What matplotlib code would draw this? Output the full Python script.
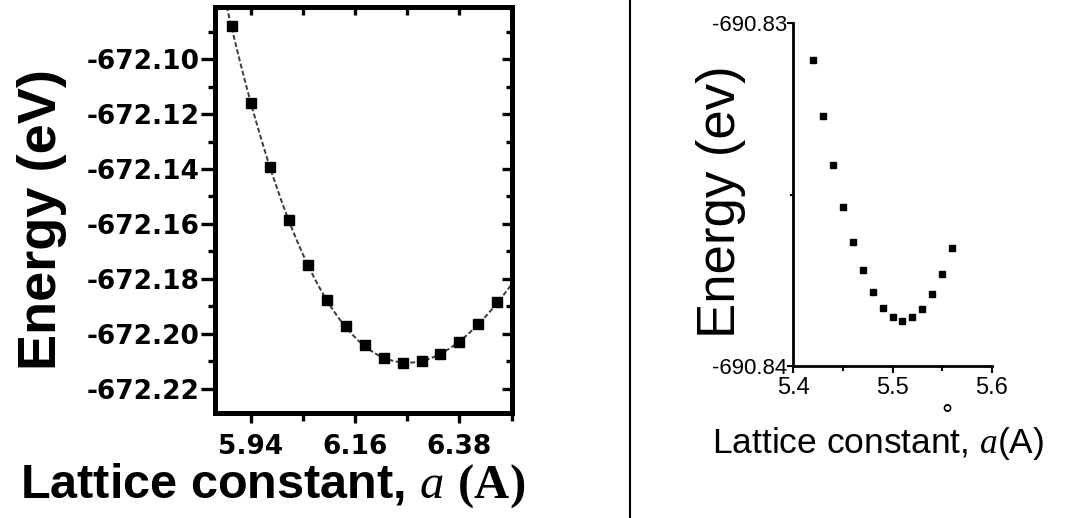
import numpy as np
import matplotlib
matplotlib.use("Agg")
import matplotlib.pyplot as plt
from matplotlib.ticker import FixedLocator, MultipleLocator, FormatStrFormatter, NullFormatter
from matplotlib.lines import Line2D

plt.rcParams['font.family'] = 'Liberation Sans'
plt.rcParams['axes.unicode_minus'] = False
plt.rcParams['mathtext.fontset'] = 'custom'
plt.rcParams['mathtext.rm'] = 'Liberation Sans'
plt.rcParams['mathtext.it'] = 'Liberation Serif:italic'
plt.rcParams['mathtext.bf'] = 'Liberation Serif:bold'

# left scan: lattice constant (A) vs total energy (eV)
a_left = [5.90, 5.94, 5.98, 6.02, 6.06, 6.10, 6.14, 6.18,
          6.22, 6.26, 6.30, 6.34, 6.38, 6.42, 6.46]
e_left = [-672.0881, -672.1158, -672.1392, -672.1587, -672.1748,
          -672.1876, -672.1971, -672.2043, -672.2087, -672.2107,
          -672.2101, -672.2073, -672.2030, -672.1964, -672.1886]

# right scan
a_right = [5.42, 5.43, 5.44, 5.45, 5.46, 5.47, 5.48, 5.49,
           5.50, 5.51, 5.52, 5.53, 5.54, 5.55, 5.56]
e_right = [-690.83107, -690.83270, -690.83413, -690.83536, -690.83639,
           -690.83721, -690.83786, -690.83832, -690.83859, -690.83869,
           -690.83859, -690.83834, -690.83791, -690.83731, -690.83655]

left_xticks = [5.94, 6.16, 6.38]
left_xminor = [6.05, 6.27, 6.49]

W, H = 1065, 518
fig = plt.figure(figsize=(W / 100, H / 100), dpi=100)


def box(x0, y0, x1, y1):
    return [x0 / W, 1 - y1 / H, (x1 - x0) / W, (y1 - y0) / H]


# ---- left panel ----
ax1 = fig.add_axes(box(215, 7, 511.7, 413.3))
coef = np.polyfit(a_left, e_left, 3)
xf = np.linspace(5.86, 6.50, 300)
ax1.plot(xf, np.polyval(coef, xf), color='#3a3a3a', lw=1.4, ls=(0, (2.5, 1.3)))
ax1.plot(a_left, e_left, 's', color='black', ms=6.8, zorder=3)

ax1.set_xlim(5.865, 6.49)
ax1.set_ylim(-672.229, -672.081)
ax1.xaxis.set_major_locator(FixedLocator(left_xticks))
ax1.xaxis.set_minor_locator(FixedLocator(left_xminor))
ax1.yaxis.set_major_locator(MultipleLocator(0.02))
ax1.yaxis.set_minor_locator(MultipleLocator(0.01))
ax1.yaxis.set_major_formatter(FormatStrFormatter('%.2f'))
ax1.xaxis.set_major_formatter(FormatStrFormatter('%.2f'))
for s in ax1.spines.values():
    s.set_linewidth(3.6)

ax1.tick_params(which='both', direction='out', width=2.4)
ax1.tick_params(axis='y', which='major', length=10, pad=1, labelsize=19)
ax1.tick_params(axis='y', which='minor', length=5)
ax1.tick_params(axis='x', which='major', length=7, pad=8, labelsize=19)
ax1.tick_params(axis='x', which='minor', length=6)
for lab in ax1.get_xticklabels() + ax1.get_yticklabels():
    lab.set_fontfamily('DejaVu Sans')
    lab.set_fontweight('bold')

# inward ticks on the top and right edges
top = ax1.secondary_xaxis('top')
top.xaxis.set_major_locator(FixedLocator(left_xticks))
top.xaxis.set_minor_locator(FixedLocator(left_xminor))
top.xaxis.set_major_formatter(NullFormatter())
top.tick_params(which='both', direction='in', length=6, width=2.4)
top.spines['top'].set_linewidth(3.6)

right = ax1.secondary_yaxis('right')
right.yaxis.set_major_locator(MultipleLocator(0.02))
right.yaxis.set_minor_locator(MultipleLocator(0.01))
right.yaxis.set_major_formatter(NullFormatter())
right.tick_params(which='major', direction='in', length=7, width=2.4)
right.tick_params(which='minor', direction='in', length=4, width=2.4)
right.spines['right'].set_linewidth(3.6)

fig.text(42 / W, 1 - 220 / H, 'Energy (eV)', rotation=90, fontsize=39,
         fontweight='bold', ha='center', va='center')
fig.text(20 / W, 1 - 498 / H, r'Lattice constant, $\mathit{a}$ $\mathbf{(A)}$',
         fontsize=35, fontweight='bold', ha='left', va='baseline')

# divider between the two panels
fig.add_artist(Line2D([630 / W, 630 / W], [0, 1], transform=fig.transFigure,
                      color='black', lw=1.5))

# ---- right panel ----
ax2 = fig.add_axes(box(793.3, 23.3, 991.7, 365.7))
ax2.plot(a_right, e_right, 's', color='black', ms=4.2)
ax2.set_xlim(5.4, 5.6)
ax2.set_ylim(-690.84, -690.83)
ax2.spines['top'].set_visible(False)
ax2.spines['right'].set_visible(False)
for side in ('left', 'bottom'):
    ax2.spines[side].set_linewidth(2)
ax2.xaxis.set_major_locator(MultipleLocator(0.1))
ax2.xaxis.set_minor_locator(MultipleLocator(0.05))
ax2.xaxis.set_major_formatter(FormatStrFormatter('%.1f'))
ax2.yaxis.set_major_locator(FixedLocator([-690.84, -690.83]))
ax2.yaxis.set_minor_locator(FixedLocator([-690.835]))
ax2.yaxis.set_major_formatter(FormatStrFormatter('%.2f'))
ax2.tick_params(which='both', direction='out', width=1.5)
ax2.tick_params(axis='y', which='major', length=4, pad=0.5, labelsize=16)
ax2.tick_params(axis='y', which='minor', length=2.5)
ax2.tick_params(axis='x', which='major', length=5, pad=3, labelsize=17)
ax2.tick_params(axis='x', which='minor', length=3.5)

fig.text(721 / W, 1 - 202 / H, 'Energy (ev)', rotation=90, fontsize=38,
         ha='center', va='center')
fig.text(712 / W, 1 - 453 / H, r'Lattice constant, $\mathit{a}$(A)',
         fontsize=25.5, ha='left', va='baseline')
fig.text(947 / W, 1 - 424 / H, '\u00b0', fontsize=20, ha='center', va='baseline')

fig.savefig('out.png', dpi=100)
